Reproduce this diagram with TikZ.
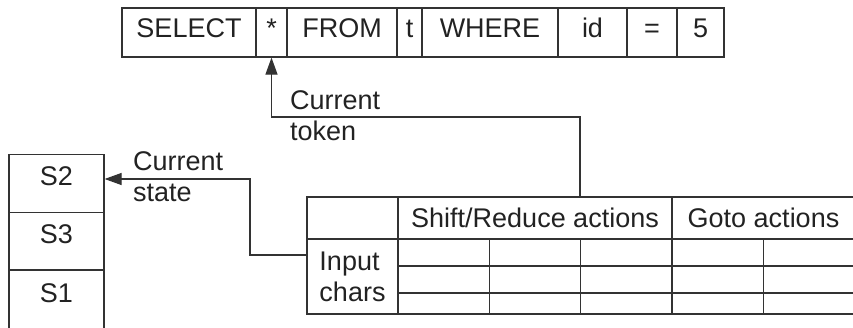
\documentclass[tikz,border=0pt]{standalone}
\usepackage{fontspec}
\setmainfont{Liberation Sans}
\usetikzlibrary{arrows.meta}
\definecolor{ink}{HTML}{222222}
\definecolor{rule}{HTML}{333333}
\tikzset{
  every node/.style={text=ink, font=\fontsize{27}{31}\selectfont},
  box/.style={draw=rule, line width=1.2pt, inner sep=0pt, minimum height=49pt},
  tokcell/.style={box, text height=19pt, text depth=9.4pt},
  stackcell/.style={box, minimum width=95pt, minimum height=57.5pt,
    text height=19pt, text depth=14.6pt},
  gridcell/.style={draw=rule, line width=1.2pt, inner sep=0pt,
    minimum width=91.3pt, minimum height=27pt},
  pointer/.style={draw=rule, line width=1.2pt,
    -{Triangle[length=17pt, width=12pt]}},
  note/.style={align=left, inner sep=0pt, anchor=base west}
}
\begin{document}
\begin{tikzpicture}[x=1pt, y=-1pt]
  \useasboundingbox (0,0) rectangle (853,327);

  % token stream
  \node[tokcell, minimum width=134pt] (select) at (189,32.5)   {SELECT};
  \node[tokcell, minimum width=31pt]  (star)   at (271.5,32.5) {*};
  \node[tokcell, minimum width=110pt] (from)   at (342,32.5)   {FROM};
  \node[tokcell, minimum width=25pt]  (tname)  at (409.5,32.5) {t};
  \node[tokcell, minimum width=136pt] (where)  at (490,32.5)   {WHERE};
  \node[tokcell, minimum width=69pt]  (idtok)  at (592.5,32.5) {id};
  \node[tokcell, minimum width=50pt]  (eqtok)  at (652,32.5)   {=};
  \node[tokcell, minimum width=47pt]  (five)   at (700.5,32.5) {5};

  % state stack (the last cell runs off the bottom edge)
  \node[stackcell] (s2) at (56.5,183.5) {S2};
  \node[stackcell] (s3) at (56.5,241)   {S3};
  \node[stackcell, minimum height=70pt, text depth=26pt] (s1) at (56.5,305.5) {S1};

  % parse table header
  \node[box, minimum width=91pt, minimum height=42pt] (corner) at (352.5,218) {};
  \node[box, minimum width=274pt, minimum height=42pt] (sr) at (535,218) {Shift/Reduce actions};
  \node[box, minimum width=183pt, minimum height=42pt] (goto) at (763.5,218) {Goto actions};
  \node[box, minimum width=91pt, minimum height=75pt, align=left] (inp) at (352.5,276.5) {Input\\chars};

  % parse table body
  \foreach \c [evaluate=\c as \cx using 443.65+(\c-1)*91.3] in {1,...,5} {
    \node[gridcell] (g\c1) at (\cx,252.5) {};
    \node[gridcell] (g\c2) at (\cx,279.5) {};
    \node[gridcell, minimum height=21pt] (g\c3) at (\cx,303.5) {};
  }

  % pointers
  \coordinate (tokbend) at (581,117);
  \coordinate (stbend) at (250,255);
  \draw[pointer] (g31.west |- sr.north) -- (g31.west |- tokbend) -| (star.south);
  \draw[pointer] (inp.west |- stbend) -- (stbend) |- ([yshift=4.5pt]s2.east);

  % labels (anchored on the baseline of their last line)
  \node[note] (toklabel) at (290,140) {Current\\token};
  \node[note] (stlabel) at (133,201.7) {Current\\state};
\end{tikzpicture}
\end{document}
